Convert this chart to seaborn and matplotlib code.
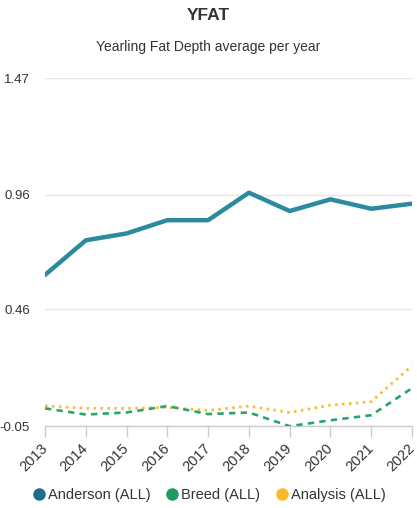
import matplotlib
matplotlib.use("Agg")
import matplotlib.pyplot as plt
import seaborn as sns
import pandas as pd
from matplotlib.lines import Line2D

years = [2013, 2014, 2015, 2016, 2017, 2018, 2019, 2020, 2021, 2022]
anderson = [0.611, 0.762, 0.792, 0.850, 0.850, 0.970, 0.890, 0.941, 0.900, 0.922]
breed = [0.028, 0.001, 0.010, 0.038, 0.003, 0.010, -0.050, -0.024, -0.002, 0.116]
analysis = [0.039, 0.028, 0.028, 0.032, 0.019, 0.038, 0.010, 0.042, 0.057, 0.214]
series_names = ["Anderson (ALL)", "Breed (ALL)", "Analysis (ALL)"]
yticks = [-0.05, 0.46, 0.96, 1.47]
ytick_labels = ["-0.05", "0.46", "0.96", "1.47"]

sns.set_theme(style="white")
plt.rcParams['font.family'] = ['Liberation Sans', 'DejaVu Sans']

line_colors = ["#2b8a9d", "#27a470", "#fbbd2c"]
legend_colors = ["#1f6e8e", "#1e9a62", "#fbb829"]
line_styles = ["-", (0, (2.4, 2.0)), (0, (0.9, 1.6))]
line_widths = [3.2, 1.9, 2.0]

df = pd.DataFrame({"year": years * 3,
                   "value": anderson + breed + analysis,
                   "series": sum([[n] * len(years) for n in series_names], [])})
df["x"] = df["year"].map({y: i for i, y in enumerate(years)})

fig = plt.figure(figsize=(4.17, 5.08), dpi=100)
ax = fig.add_axes([0.108, 0.161, 0.880, 0.685])

for i, name in enumerate(series_names):
    sub = df[df["series"] == name]
    sns.lineplot(data=sub, x="x", y="value", ax=ax, color=line_colors[i],
                 linewidth=line_widths[i], linestyle=line_styles[i],
                 legend=False, zorder=5 - i)

ax.set_xlim(0, len(years) - 1)
ax.set_ylim(-0.05, 1.47)
ax.set_yticks(yticks)
ax.set_yticklabels(ytick_labels)
ax.set_xticks(range(len(years)))
ax.set_xticklabels([str(y) for y in years], rotation=45, ha="right",
                   va="center", rotation_mode="anchor")
ax.grid(axis="y", color="#e6e6e6", linewidth=1)
ax.set_axisbelow(True)
for s in ["top", "right", "left"]:
    ax.spines[s].set_visible(False)
ax.spines["bottom"].set_color("#cccccc")
ax.spines["bottom"].set_linewidth(1)
ax.tick_params(axis="x", length=8, color="#cccccc", width=1, labelsize=10.5,
               labelcolor="#333333", pad=6, bottom=True)
ax.tick_params(axis="y", length=0, labelsize=9.5, labelcolor="#333333", pad=11)
ax.set_xlabel("")
ax.set_ylabel("")

fig.text(0.5, 1 - 16 / 508, "YFAT", ha="center", va="center",
         fontsize=12.5, fontweight="bold", color="#333333")
fig.text(0.5, 1 - 47 / 508, "Yearling Fat Depth average per year", ha="center",
         va="center", fontsize=10, color="#333333")

handles = [Line2D([0], [0], marker="o", linestyle="", markersize=8,
                  markerfacecolor=c, markeredgecolor=c) for c in legend_colors]
fig.legend(handles, series_names, loc="center", bbox_to_anchor=(0.5, 1 - 495 / 508),
           ncol=3, frameon=False, fontsize=10.5, handletextpad=0.1,
           columnspacing=1.0, labelcolor="#333333", handlelength=1.0)

fig.savefig("out.png", dpi=100)
